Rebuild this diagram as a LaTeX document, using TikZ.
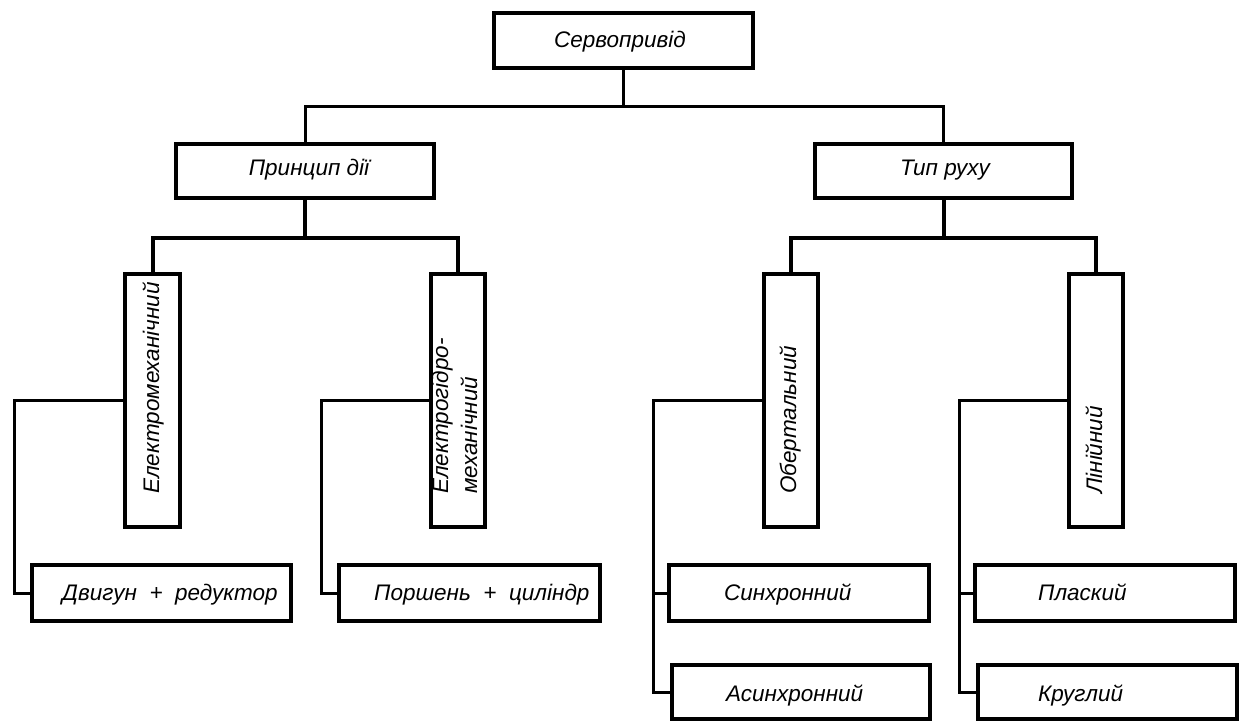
\documentclass[tikz,border=0pt]{standalone}
\usepackage{fontspec}
\setmainfont{Liberation Sans}
\begin{document}
\begin{tikzpicture}[x=1pt,y=-1pt,
  box/.style={draw, line width=4pt, rectangle, inner sep=0pt, minimum width=#1},
  box/.default=258pt,
  lbl/.style={inner sep=0pt, font=\itshape\fontsize{22.5}{27}\selectfont},
  conn/.style={line width=3pt},
  connb/.style={line width=4pt},
  every node/.append style={line join=miter}]
\useasboundingbox (0,0) rectangle (1246,722);
% boxes
\node[box=259pt, minimum height=55.5pt] (srv) at (623.5,40.75) {};
\node[box=258pt, minimum height=54pt] (pd) at (305,171) {};
\node[box=257pt, minimum height=54pt] (tr) at (943.5,171) {};
\node[box=55pt, minimum height=253pt] (em) at (152.5,400.5) {};
\node[box=54pt, minimum height=253pt] (eg) at (458,400.5) {};
\node[box=54pt, minimum height=253pt] (ob) at (791,400.5) {};
\node[box=54pt, minimum height=253pt] (li) at (1096,400.5) {};
\node[box=259pt, minimum height=56pt] (dr) at (161.5,593) {};
\node[box=261pt, minimum height=56pt] (pc) at (469.5,593) {};
\node[box=260pt, minimum height=56pt] (sy) at (799,593) {};
\node[box=258pt, minimum height=54pt] (as) at (801,692) {};
\node[box=260pt, minimum height=56pt] (pl) at (1105,593) {};
\node[box=259pt, minimum height=54pt] (kr) at (1107.5,692) {};
% labels
\node[lbl, anchor=base] (tsrv) at (620,48) {Сервопривід};
\node[lbl, anchor=base] (tpd) at (309,175.5) {Принцип дії};
\node[lbl, anchor=base] (ttr) at (945,175.5) {Тип руху};
\node[lbl, anchor=base west] (tdr) at (62,600) {Двигун\ \ +\ \ редуктор};
\node[lbl, anchor=base west] (tpc) at (374,600) {Поршень\ \ +\ \ циліндр};
\node[lbl, anchor=base west] (tsy) at (724,600) {Синхронний};
\node[lbl, anchor=base west] (tas) at (726,701) {Асинхронний};
\node[lbl, anchor=base west] (tpl) at (1038,600) {Плаский};
\node[lbl, anchor=base west] (tkr) at (1038,701) {Круглий};
\node[lbl, anchor=base west, rotate=90] (tem) at (159,494) {Електромеханічний};
\node[lbl, anchor=base west, rotate=90] (teg1) at (448,494) {Електрогідро-};
\node[lbl, anchor=base west, rotate=90] (teg2) at (477,494) {механічний};
\node[lbl, anchor=base west, rotate=90] (tob) at (796,494) {Обертальний};
\node[lbl, anchor=base west, rotate=90] (tli) at (1102,494) {Лінійний};
% junctions
\coordinate (j1) at (623.5,107);
\coordinate (j2) at (305,237.5);
\coordinate (j3) at (943.5,237.5);
\coordinate (b1) at (14,400.5);
\coordinate (b2) at (321,400.5);
\coordinate (b3) at (653,400.5);
\coordinate (b4) at (959,400.5);
% connectors
\draw[conn] (srv.south) -- (j1);
\draw[conn] (pd.north) |- (j1) -| (tr.north);
\draw[connb] (pd.south) -- (j2);
\draw[connb] (em.north) |- (j2) -| (eg.north);
\draw[connb] (tr.south) -- (j3);
\draw[connb] (ob.north) |- (j3) -| (li.north);
\draw[conn] (em.west) -- (b1) |- (dr.west);
\draw[conn] (eg.west) -- (b2) |- (pc.west);
\draw[conn] (ob.west) -- (b3) |- (as.west);
\draw[conn] (b3) |- (sy.west);
\draw[conn] (li.west) -- (b4) |- (kr.west);
\draw[conn] (b4) |- (pl.west);
\end{tikzpicture}
\end{document}
